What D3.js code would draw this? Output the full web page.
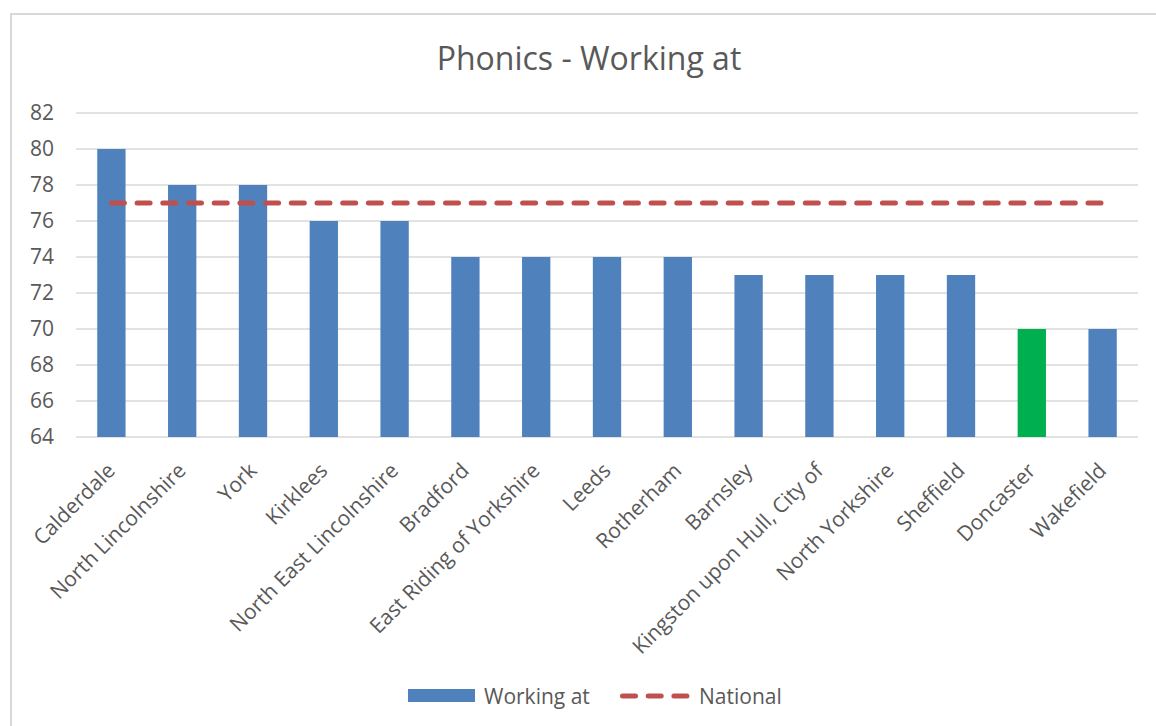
<!DOCTYPE html>
<html>
<head>
<meta charset="utf-8">
<script src="https://cdn.jsdelivr.net/npm/d3@7"></script>
<style>
  html, body { margin: 0; padding: 0; background: #fff; }
  svg { display: block; font-family: "Open Sans", "Noto Sans", sans-serif; }
</style>
</head>
<body>
<svg id="chart" width="1156" height="726"></svg>
<script>
// Local authorities, in ranked order
const categories = [
  "Calderdale", "North Lincolnshire", "York", "Kirklees", "North East Lincolnshire",
  "Bradford", "East Riding of Yorkshire", "Leeds", "Rotherham", "Barnsley",
  "Kingston upon Hull, City of", "North Yorkshire", "Sheffield", "Doncaster", "Wakefield"
];
// Percentage of pupils working at the expected standard
const workingAt = [80, 78, 78, 76, 76, 74, 74, 74, 74, 73, 73, 73, 73, 70, 70];
// National average, same for every authority
const national = [77, 77, 77, 77, 77, 77, 77, 77, 77, 77, 77, 77, 77, 77, 77];
const yTicks = [64, 66, 68, 70, 72, 74, 76, 78, 80, 82];
const highlighted = "Doncaster";

const svg = d3.select("#chart");
const blue = "#4f81bd", green = "#00b050", red = "#c0504d", textCol = "#595959";
const labelFont = "21px";

// Outer chart frame
svg.append("rect")
  .attr("x", 11).attr("y", 14).attr("width", 1160).attr("height", 730)
  .attr("fill", "#fff").attr("stroke", "#d9d9d9").attr("stroke-width", 2);

const plot = { left: 76, right: 1138, top: 113, bottom: 437 };

const x = d3.scaleBand().domain(categories).range([plot.left, plot.right]).paddingInner(0.6).paddingOuter(0.3);
const y = d3.scaleLinear().domain([64, 82]).range([plot.bottom, plot.top]);

// Title
svg.append("text")
  .attr("x", 589).attr("y", 70)
  .attr("text-anchor", "middle")
  .attr("fill", textCol)
  .style("font-size", "32px")
  .text("Phonics - Working at");

// Horizontal gridlines
svg.append("g").selectAll("line").data(yTicks).join("line")
  .attr("x1", plot.left).attr("x2", plot.right)
  .attr("y1", d => y(d)).attr("y2", d => y(d))
  .attr("stroke", "#d9d9d9").attr("stroke-width", 1.3);

// Y axis labels
const yAxis = svg.append("g")
  .attr("transform", `translate(${plot.left - 22},0)`)
  .call(d3.axisLeft(y).tickValues(yTicks).tickSize(0).tickPadding(0));
yAxis.select(".domain").remove();
yAxis.selectAll("text")
  .attr("fill", textCol)
  .style("font-family", "'Open Sans', sans-serif")
  .style("font-size", labelFont);

// Bars
svg.append("g").selectAll("rect").data(categories).join("rect")
  .attr("x", d => x(d))
  .attr("width", x.bandwidth())
  .attr("y", (d, i) => y(workingAt[i]))
  .attr("height", (d, i) => y(64) - y(workingAt[i]))
  .attr("fill", d => d === highlighted ? green : blue);

// National line, dashed
const line = d3.line()
  .x((d, i) => x(categories[i]) + x.bandwidth() / 2)
  .y(d => y(d));
svg.append("path")
  .datum(national)
  .attr("d", line)
  .attr("fill", "none")
  .attr("stroke", red)
  .attr("stroke-width", 5)
  .attr("stroke-linecap", "round")
  .attr("stroke-dasharray", "13,12.7");

// X axis labels, rotated
const xAxis = svg.append("g")
  .attr("transform", `translate(0,${plot.bottom})`)
  .call(d3.axisBottom(x).tickSize(0).tickPadding(0));
xAxis.select(".domain").remove();
xAxis.selectAll("text")
  .attr("fill", textCol)
  .style("font-family", "'Open Sans', sans-serif")
  .style("font-size", labelFont)
  .attr("text-anchor", "end")
  .attr("dy", "0")
  .attr("transform", "translate(5,35) rotate(-45)");

// Legend
const lg = svg.append("g");
lg.append("rect").attr("x", 408).attr("y", 689).attr("width", 67).attr("height", 13).attr("fill", blue);
lg.append("text").attr("x", 484).attr("y", 704).attr("fill", textCol).style("font-size", labelFont).text("Working at");
lg.append("line").attr("x1", 622.5).attr("x2", 687.5).attr("y1", 696).attr("y2", 696)
  .attr("stroke", red).attr("stroke-width", 5).attr("stroke-linecap", "round")
  .attr("stroke-dasharray", "13,12.7");
lg.append("text").attr("x", 699).attr("y", 704).attr("fill", textCol).style("font-size", labelFont).text("National");
</script>
</body>
</html>
